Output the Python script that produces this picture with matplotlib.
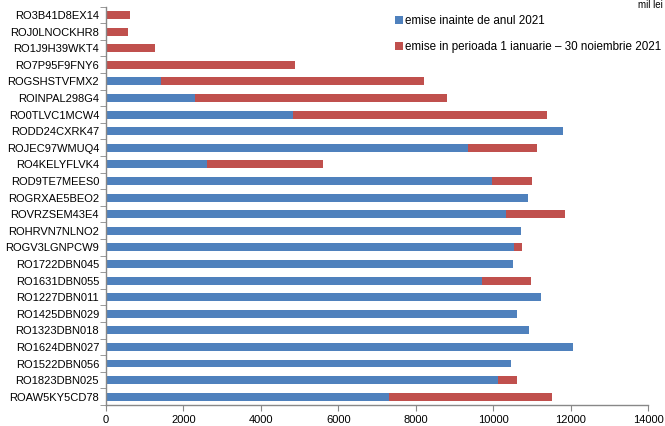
import numpy as np
import matplotlib
matplotlib.use('Agg')
import matplotlib.pyplot as plt

plt.rcParams['font.family'] = ['Liberation Sans', 'DejaVu Sans']

# Date (mil lei), de sus in jos
emitenti = ['RO3B41D8EX14', 'ROJ0LNOCKHR8', 'RO1J9H39WKT4', 'RO7P95F9FNY6',
            'ROGSHSTVFMX2', 'ROINPAL298G4', 'RO0TLVC1MCW4', 'RODD24CXRK47',
            'ROJEC97WMUQ4', 'RO4KELYFLVK4', 'ROD9TE7MEES0', 'ROGRXAE5BEO2',
            'ROVRZSEM43E4', 'ROHRVN7NLNO2', 'ROGV3LGNPCW9', 'RO1722DBN045',
            'RO1631DBN055', 'RO1227DBN011', 'RO1425DBN029', 'RO1323DBN018',
            'RO1624DBN027', 'RO1522DBN056', 'RO1823DBN025', 'ROAW5KY5CD78']
inainte_2021 = [0, 0, 0, 0, 1430, 2310, 4820, 11800, 9340, 2610, 9960, 10900,
                10330, 10720, 10550, 10520, 9700, 11240, 10620, 10920, 12060,
                10460, 10130, 7300]
in_2021 = [620, 560, 1275, 4880, 6780, 6500, 6580, 0, 1790, 3000, 1040, 0,
           1530, 0, 190, 0, 1270, 0, 0, 0, 0, 0, 480, 4220]

albastru = '#4F81BD'
rosu = '#C0504D'

fig = plt.figure(figsize=(6.65, 4.26), dpi=100)
ax = fig.add_axes([0.1594, 0.0493, 0.815, 0.935])

y = np.arange(len(emitenti))
ax.barh(y, inainte_2021, height=0.48, color=albastru,
        label='emise inainte de anul 2021')
ax.barh(y, in_2021, left=inainte_2021, height=0.48, color=rosu,
        label='emise in perioada 1 ianuarie \u2013 30 noiembrie 2021')

ax.set_ylim(len(emitenti) - 0.5, -0.5)
ax.set_xlim(0, 14000)
ax.set_xticks(np.arange(0, 14001, 2000))
ax.set_yticks(y)
ax.set_yticklabels(emitenti)
ax.set_yticks(np.arange(-0.5, len(emitenti)), minor=True)

for s in ['top', 'right']:
    ax.spines[s].set_visible(False)
for s in ['left', 'bottom']:
    ax.spines[s].set_color('#888888')
    ax.spines[s].set_linewidth(1.0)

ax.tick_params(axis='y', which='major', length=0, labelsize=8, pad=5)
ax.tick_params(axis='y', which='minor', length=4, color='#888888')
ax.tick_params(axis='x', which='major', length=4, color='#888888', labelsize=8)

ax.legend(loc='upper left', bbox_to_anchor=(0.518, 1.0), frameon=False,
          fontsize=8.4, handlelength=0.7, handleheight=0.7, handletextpad=0.15,
          labelspacing=1.2, borderaxespad=0.3)

fig.text(0.997, 0.999, 'mil lei', fontsize=7, va='top', ha='right')

fig.savefig('out.png', dpi=100)
